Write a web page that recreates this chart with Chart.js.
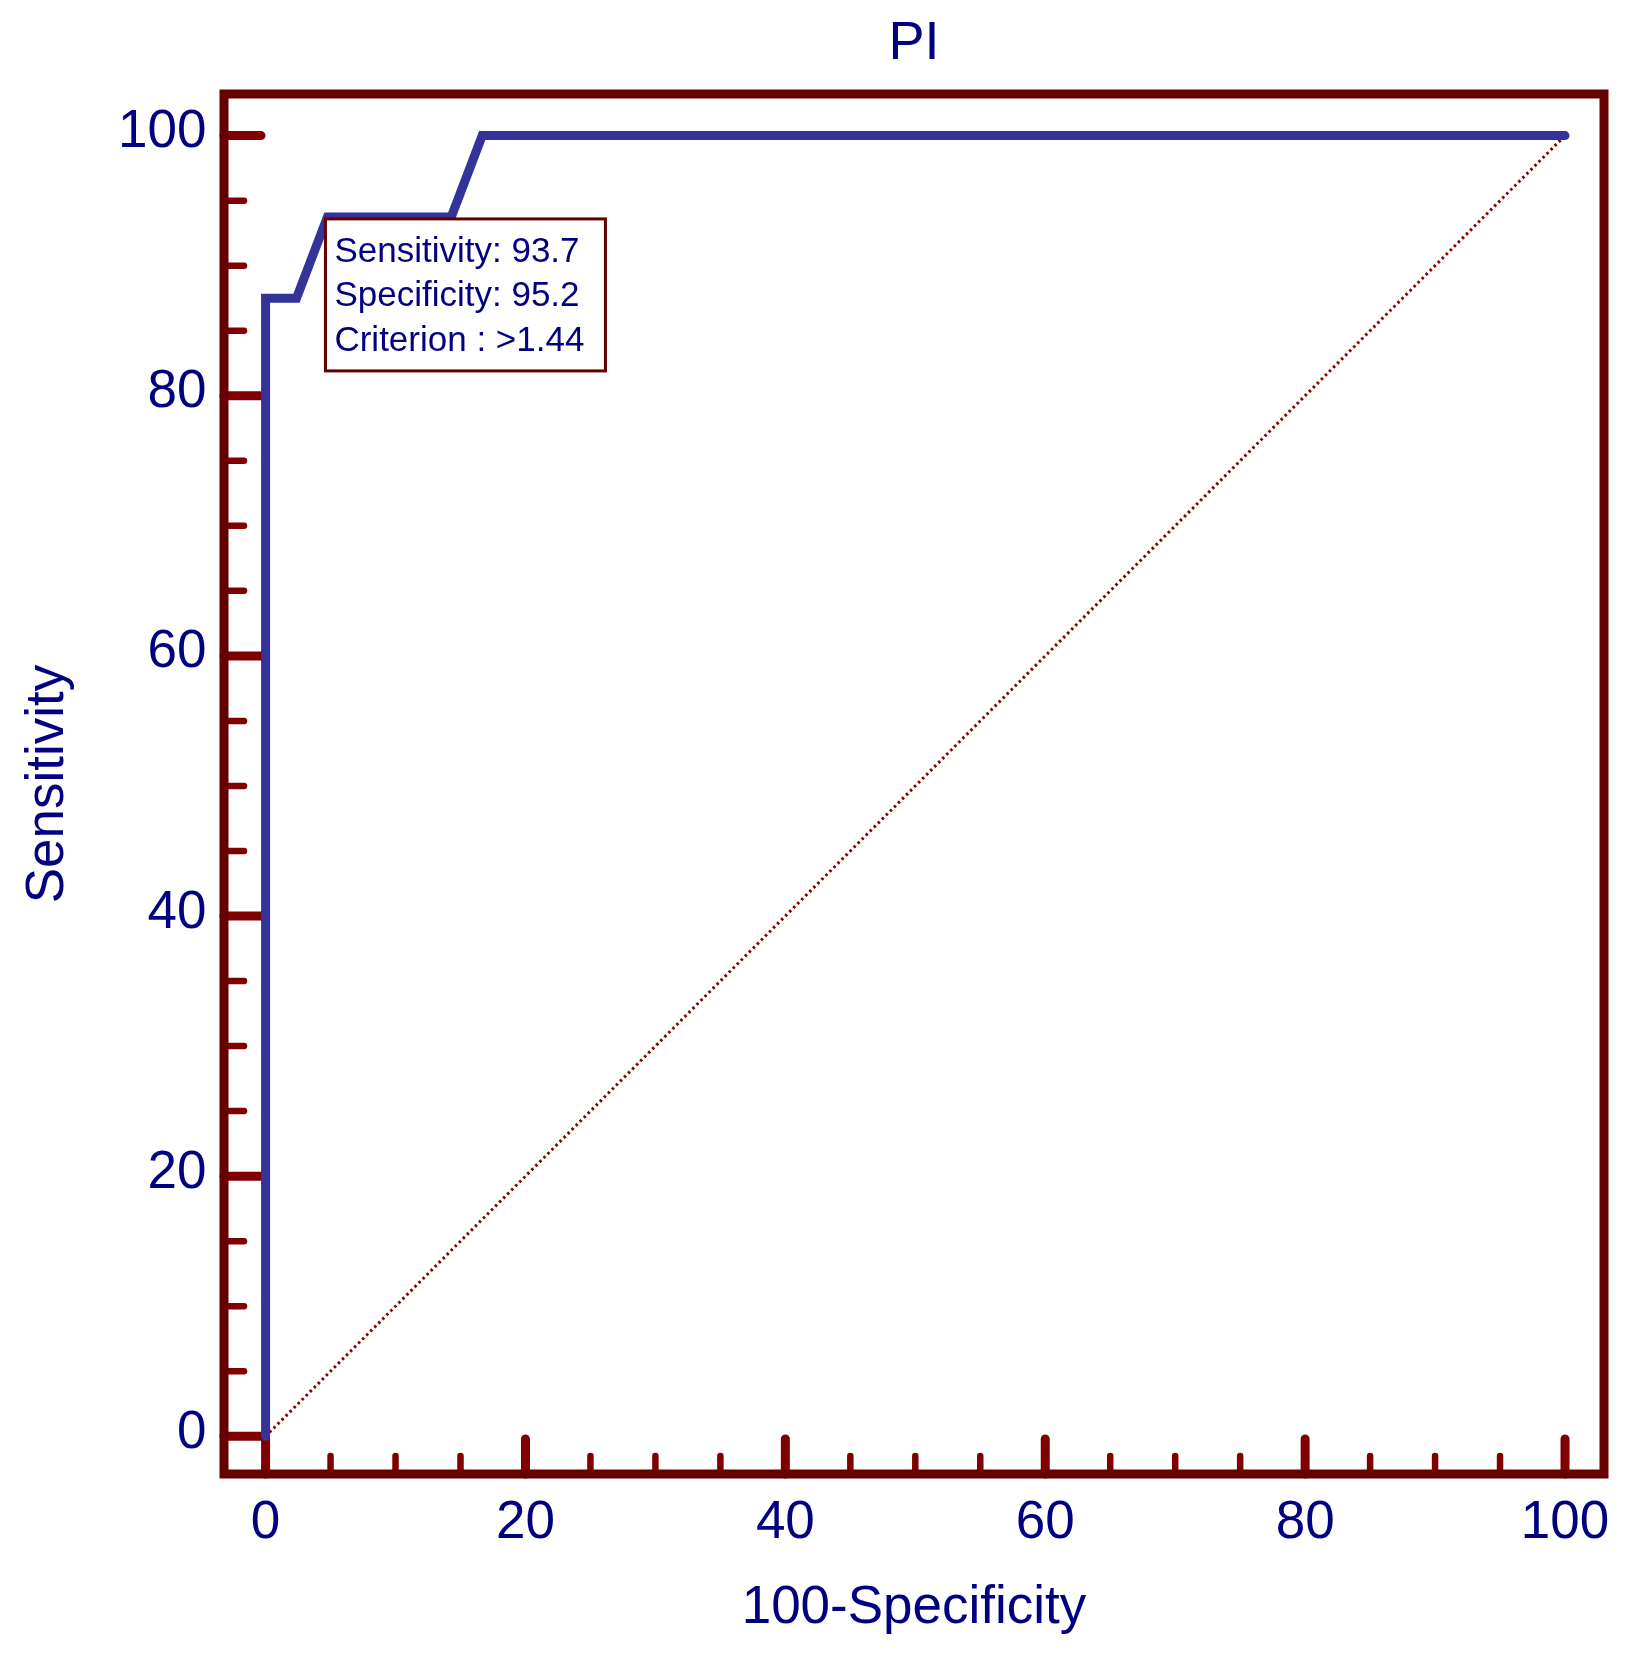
<!DOCTYPE html>
<html>
<head>
<meta charset="utf-8">
<title>PI</title>
<script src="https://cdn.jsdelivr.net/npm/chart.js@4.4.0/dist/chart.umd.min.js"></script>
<style>
  html, body { margin: 0; padding: 0; background: #fff; }
  canvas { display: block; }
</style>
</head>
<body>
<canvas id="rocChart" width="1634" height="1662"></canvas>
<script>
// ROC curve: 100-Specificity vs Sensitivity
let rocFpr = [0, 0, 2.38, 4.76, 14.29, 16.67, 100];
let rocSens = [0, 87.5, 87.5, 93.75, 93.75, 100, 100];
// reference (chance) line
let refX = [0, 100];
let refY = [0, 100];
let tickValues = [0, 20, 40, 60, 80, 100];
let criterionPoint = [4.76, 93.75];
let criterionText = ['Sensitivity: 93.7', 'Specificity: 95.2', 'Criterion : >1.44'];

const navy = '#000080';
const frameColor = '#660000';
const tickColor = '#800000';
const fontFamily = "'Liberation Sans', Arial, Helvetica, sans-serif";

Chart.defaults.font.family = fontFamily;

function toPoints(xs, ys) {
  return xs.map((x, i) => ({x: x, y: ys[i]}));
}

// frame + inward tick marks, under the curves
const framePlugin = {
  id: 'frame',
  beforeDatasetsDraw: function (chart) {
    const ctx = chart.ctx;
    const area = chart.chartArea;
    const xAxis = chart.scales.x;
    const yAxis = chart.scales.y;
    ctx.save();
    ctx.strokeStyle = tickColor;
    ctx.lineCap = 'round';
    for (let v = 0; v <= 100; v += 5) {
      const major = v % 20 === 0;
      ctx.lineWidth = major ? 9 : 6.5;
      const py = yAxis.getPixelForValue(v);
      ctx.beginPath();
      ctx.moveTo(area.left, py);
      ctx.lineTo(area.left + (major ? 37 : 20), py);
      ctx.stroke();
      const px = xAxis.getPixelForValue(v);
      ctx.beginPath();
      ctx.moveTo(px, area.bottom);
      ctx.lineTo(px, area.bottom - (major ? 35 : 18));
      ctx.stroke();
    }
    ctx.strokeStyle = frameColor;
    ctx.lineWidth = 9;
    ctx.lineJoin = 'miter';
    ctx.lineCap = 'square';
    ctx.strokeRect(area.left, area.top, area.right - area.left, area.bottom - area.top);
    ctx.restore();
  }
};

// box with the optimal criterion, drawn over the curve
const boxPlugin = {
  id: 'criterionBox',
  afterDatasetsDraw: function (chart) {
    const ctx = chart.ctx;
    const bx = chart.scales.x.getPixelForValue(criterionPoint[0]) - 2;
    const by = chart.scales.y.getPixelForValue(criterionPoint[1]) + 2;
    const w = 280, h = 152;
    ctx.save();
    ctx.fillStyle = '#ffffff';
    ctx.fillRect(bx, by, w, h);
    ctx.strokeStyle = frameColor;
    ctx.lineWidth = 3;
    ctx.strokeRect(bx, by, w, h);
    ctx.fillStyle = navy;
    ctx.font = '35px ' + fontFamily;
    ctx.textAlign = 'left';
    ctx.textBaseline = 'alphabetic';
    criterionText.forEach((t, i) => {
      ctx.fillText(t, bx + 9, by + 43 + i * 44.5);
    });
    ctx.restore();
  }
};

function fixedTicks(axis) {
  axis.ticks = tickValues.map(v => ({value: v}));
}

new Chart(document.getElementById('rocChart'), {
  type: 'scatter',
  data: {
    datasets: [{
      label: 'PI',
      data: toPoints(rocFpr, rocSens),
      showLine: true,
      borderColor: '#333399',
      borderWidth: 9,
      borderJoinStyle: 'miter',
      borderCapStyle: 'round',
      tension: 0,
      pointRadius: 0,
      fill: false,
    }, {
      label: 'reference',
      data: toPoints(refX, refY),
      showLine: true,
      borderColor: tickColor,
      borderWidth: 3,
      borderDash: [2.5, 3.2],
      tension: 0,
      pointRadius: 0,
      fill: false,
    }],
  },
  options: {
    responsive: false,
    animation: false,
    layout: {
      padding: { left: 0, top: 0, right: 30, bottom: 0 }
    },
    plugins: {
      legend: { display: false },
      tooltip: { enabled: false },
      title: {
        display: true,
        text: 'PI',
        color: navy,
        fullSize: false,
        font: { size: 54, weight: 'normal', lineHeight: 1.2 },
        padding: { top: 11.5, bottom: 17.7 }
      }
    },
    scales: {
      x: {
        type: 'linear',
        position: 'bottom',
        min: -3.2,
        max: 103,
        afterBuildTicks: fixedTicks,
        afterFit: function (scale) { scale.height = 188; },
        grid: { display: false, drawTicks: false },
        border: { display: false },
        ticks: {
          color: navy,
          font: { size: 53 },
          padding: 18,
          maxRotation: 0,
          autoSkip: false
        },
        title: {
          display: true,
          text: '100-Specificity',
          color: navy,
          font: { size: 53 },
          padding: { top: 0, bottom: 22 }
        }
      },
      y: {
        type: 'linear',
        position: 'left',
        min: -2.9,
        max: 103.2,
        afterBuildTicks: fixedTicks,
        afterFit: function (scale) { scale.width = 224; },
        grid: { display: false, drawTicks: false },
        border: { display: false },
        ticks: {
          color: navy,
          font: { size: 53 },
          padding: 17.5,
          labelOffset: -3,
          autoSkip: false
        },
        title: {
          display: true,
          text: 'Sensitivity',
          color: navy,
          font: { size: 53 },
          padding: { top: 16.8, bottom: 0 }
        }
      }
    }
  },
  plugins: [framePlugin, boxPlugin]
});
</script>
</body>
</html>
